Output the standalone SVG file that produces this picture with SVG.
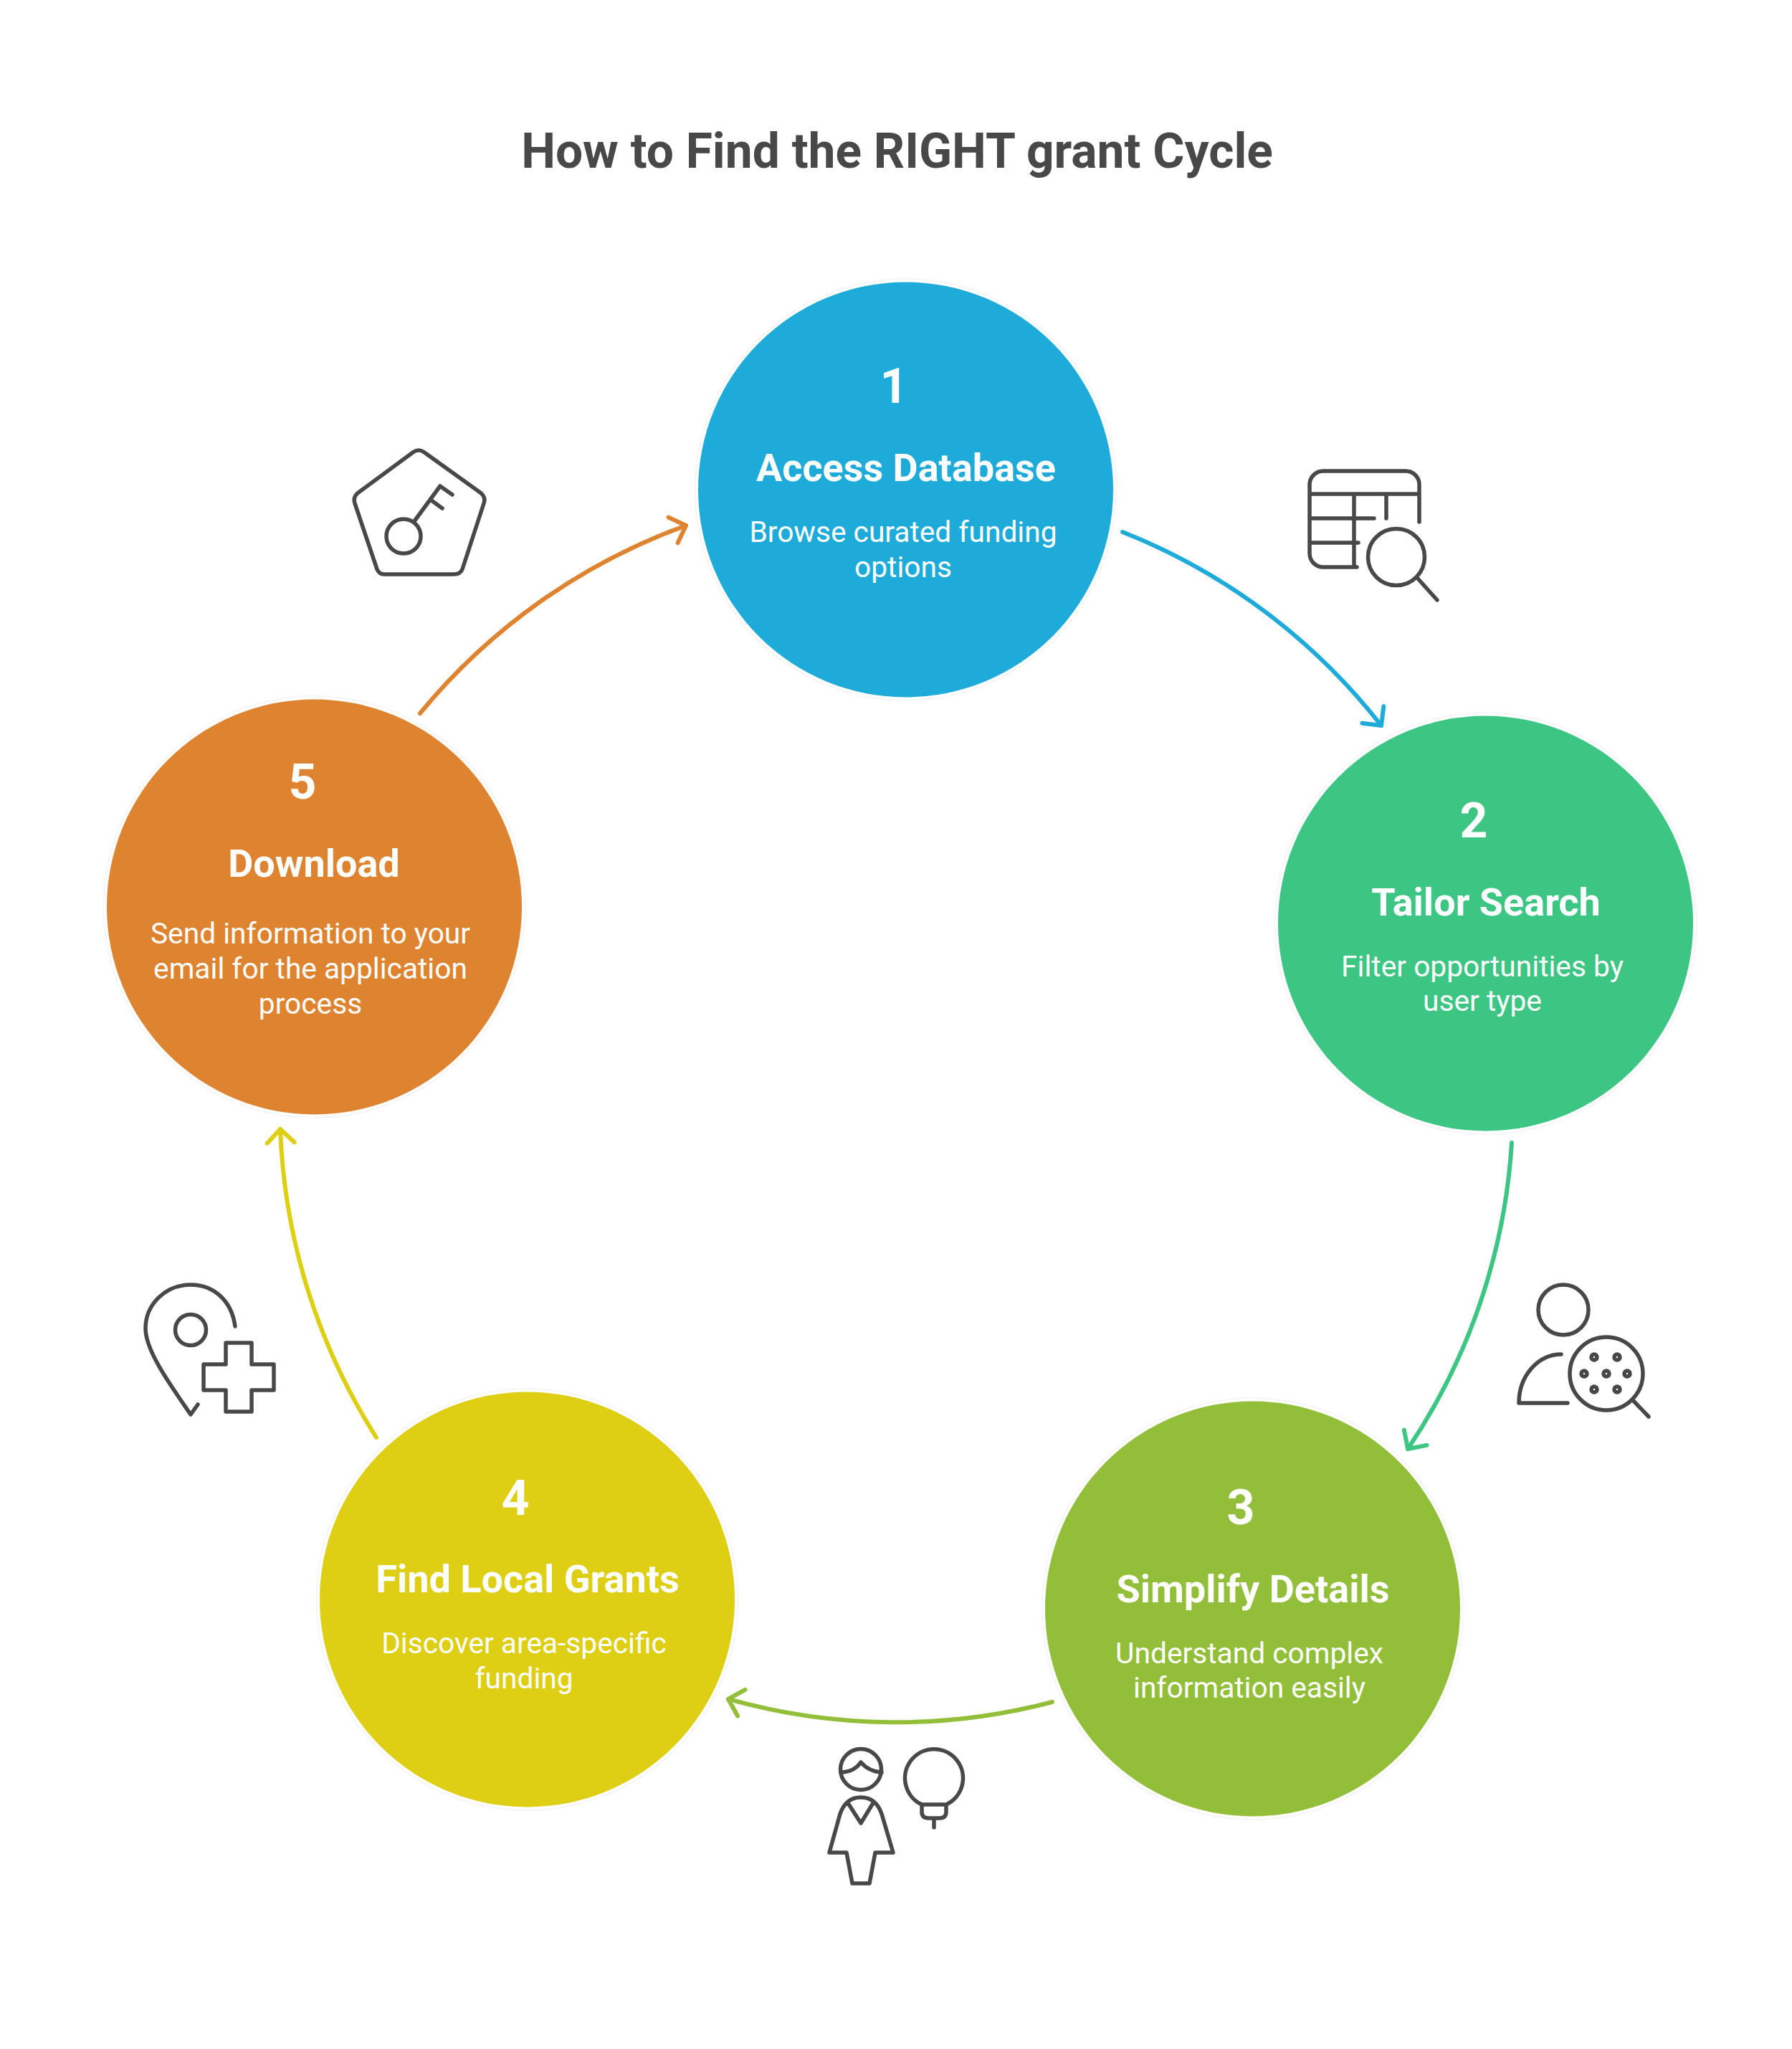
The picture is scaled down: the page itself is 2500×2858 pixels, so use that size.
<svg xmlns="http://www.w3.org/2000/svg" width="2500" height="2858" viewBox="0 0 2500 2858">
<defs>
<style>
text{font-family:Roboto,"Liberation Sans",sans-serif;text-anchor:middle;fill:#fff}
.t{font-size:67.700px;font-weight:700;fill:#484848}
.n{font-size:68px;font-weight:700}
.h{font-size:54px;font-weight:700}
.b{font-size:40.700px;font-weight:400}
.ring{fill:none;stroke:#f4f4f4;stroke-width:1.500}
.ic{fill:none;stroke:#484848;stroke-width:5.500;stroke-linecap:round;stroke-linejoin:round}
.c{fill:none;stroke-width:6;stroke-linecap:round}
</style>
<marker id="a1" viewBox="-24 -24 48 48" markerWidth="48" markerHeight="48" markerUnits="userSpaceOnUse" orient="auto"><path d="M-19 -19L0 0L-19 19" fill="none" stroke="#1eabda" stroke-width="6" stroke-linecap="round" stroke-linejoin="round"/></marker>
<marker id="a2" viewBox="-24 -24 48 48" markerWidth="48" markerHeight="48" markerUnits="userSpaceOnUse" orient="auto"><path d="M-19 -19L0 0L-19 19" fill="none" stroke="#3cc583" stroke-width="6" stroke-linecap="round" stroke-linejoin="round"/></marker>
<marker id="a3" viewBox="-24 -24 48 48" markerWidth="48" markerHeight="48" markerUnits="userSpaceOnUse" orient="auto"><path d="M-19 -19L0 0L-19 19" fill="none" stroke="#93be3a" stroke-width="6" stroke-linecap="round" stroke-linejoin="round"/></marker>
<marker id="a4" viewBox="-24 -24 48 48" markerWidth="48" markerHeight="48" markerUnits="userSpaceOnUse" orient="auto"><path d="M-19 -19L0 0L-19 19" fill="none" stroke="#dece14" stroke-width="6" stroke-linecap="round" stroke-linejoin="round"/></marker>
<marker id="a5" viewBox="-24 -24 48 48" markerWidth="48" markerHeight="48" markerUnits="userSpaceOnUse" orient="auto"><path d="M-19 -19L0 0L-19 19" fill="none" stroke="#de8431" stroke-width="6" stroke-linecap="round" stroke-linejoin="round"/></marker>
</defs>
<rect width="2500" height="2858" fill="#fff"/>
<text id="title" class="t" x="1251.500" y="234">How to Find the RIGHT grant Cycle</text>
<g id="connectors">
<path class="c" stroke="#1eabda" marker-end="url(#a1)" d="M1566 742A859 859 0 0 1 1927 1012"/>
<path class="c" stroke="#3cc583" marker-end="url(#a2)" d="M2109 1594A859 859 0 0 1 1964 2021"/>
<path class="c" stroke="#93be3a" marker-end="url(#a3)" d="M1468 2374A859 859 0 0 1 1016 2370"/>
<path class="c" stroke="#dece14" marker-end="url(#a4)" d="M525 2005A859 859 0 0 1 391 1575"/>
<path class="c" stroke="#de8431" marker-end="url(#a5)" d="M586 995A859 859 0 0 1 957 733"/>
</g>
<g id="node1"><circle class="ring" cx="1263.500" cy="683" r="294"/><circle cx="1263.500" cy="683" r="289.500" fill="#1eabda"/>
<text class="n" x="1247" y="562">1</text><text class="h" x="1264" y="671">Access Database</text><text class="b" x="1260" y="756">Browse curated funding</text><text class="b" x="1260" y="805">options</text></g>
<g id="node2"><circle class="ring" cx="2072.500" cy="1288" r="294"/><circle cx="2072.500" cy="1288" r="289.500" fill="#3cc583"/>
<text class="n" x="2056" y="1168">2</text><text class="h" x="2073" y="1277">Tailor Search</text><text class="b" x="2068" y="1362">Filter opportunities by</text><text class="b" x="2068" y="1410">user type</text></g>
<g id="node3"><circle class="ring" cx="1747.500" cy="2244" r="294"/><circle cx="1747.500" cy="2244" r="289.500" fill="#93be3a"/>
<text class="n" x="1731" y="2126">3</text><text class="h" x="1748" y="2235">Simplify Details</text><text class="b" x="1743" y="2320">Understand complex</text><text class="b" x="1743" y="2368">information easily</text></g>
<g id="node4"><circle class="ring" cx="735.500" cy="2231" r="294"/><circle cx="735.500" cy="2231" r="289.500" fill="#dece14"/>
<text class="n" x="719" y="2113">4</text><text class="h" x="736" y="2221">Find Local Grants</text><text class="b" x="731" y="2306">Discover area-specific</text><text class="b" x="731" y="2355">funding</text></g>
<g id="node5"><circle class="ring" cx="438.500" cy="1265" r="294"/><circle cx="438.500" cy="1265" r="289.500" fill="#de8431"/>
<text class="n" x="422" y="1114">5</text><text class="h" x="438" y="1223">Download</text><text class="b" x="433" y="1316">Send information to your</text><text class="b" x="433" y="1365">email for the application</text><text class="b" x="433" y="1414">process</text></g>
<g id="icon1" class="ic"><path d="M1980 728V676a19 19 0 0 0-19-19H1846a19 19 0 0 0-19 19V772a19 19 0 0 0 19 19H1893M1827 689H1980M1889 689V791M1827 723H1917M1827 757H1895M1934 689V723"/><circle cx="1948" cy="777" r="39.500"/><path d="M1978 807L2005 837"/></g>
<g id="icon2" class="ic"><circle cx="2181" cy="1827" r="35"/><path d="M2178 1889A59 68 0 0 0 2119 1957H2187"/><circle cx="2241" cy="1916" r="51"/><path d="M2278 1953L2300 1976"/><g><circle cx="2224" cy="1893" r="4"/><circle cx="2256" cy="1893" r="4"/><circle cx="2210" cy="1916" r="4"/><circle cx="2241" cy="1916" r="4"/><circle cx="2270" cy="1916" r="4"/><circle cx="2224" cy="1938" r="4"/><circle cx="2256" cy="1938" r="4"/></g></g>
<g id="icon3" class="ic"><circle cx="1201" cy="2468" r="28.500"/><path d="M1175 2472Q1192 2471 1201 2458Q1212 2471 1230 2472"/><path d="M1157 2584L1172 2530Q1180 2507 1201 2507Q1222 2507 1230 2530L1246 2584H1221L1213 2627H1189L1181 2584ZM1183 2515L1201 2543L1218 2515"/><path d="M1286 2517A40.500 40.500 0 1 1 1320 2517H1286V2527Q1286 2536 1295 2536H1311Q1320 2536 1320 2527V2517M1303 2536V2549"/></g>
<g id="icon4" class="ic"><path d="M328 1850C323 1813 297 1792 266 1792C230 1792 203 1820 203 1853C203 1885 240 1935 266 1973L276 1959"/><circle cx="266" cy="1855" r="21.500"/><path d="M315 1873H351V1903H382V1939H351V1969H315V1939H284V1903H315Z"/></g>
<g id="icon5" class="ic"><path d="M576 631Q584 625 592 631L670 687Q678 693 675 702L645 794Q642 801 633 801H536Q529 801 526 794L495 702Q492 693 500 687Z"/><circle cx="563" cy="748" r="24"/><path d="M578 727L614 678L631 690M602 698L617 709"/></g>
</svg>
